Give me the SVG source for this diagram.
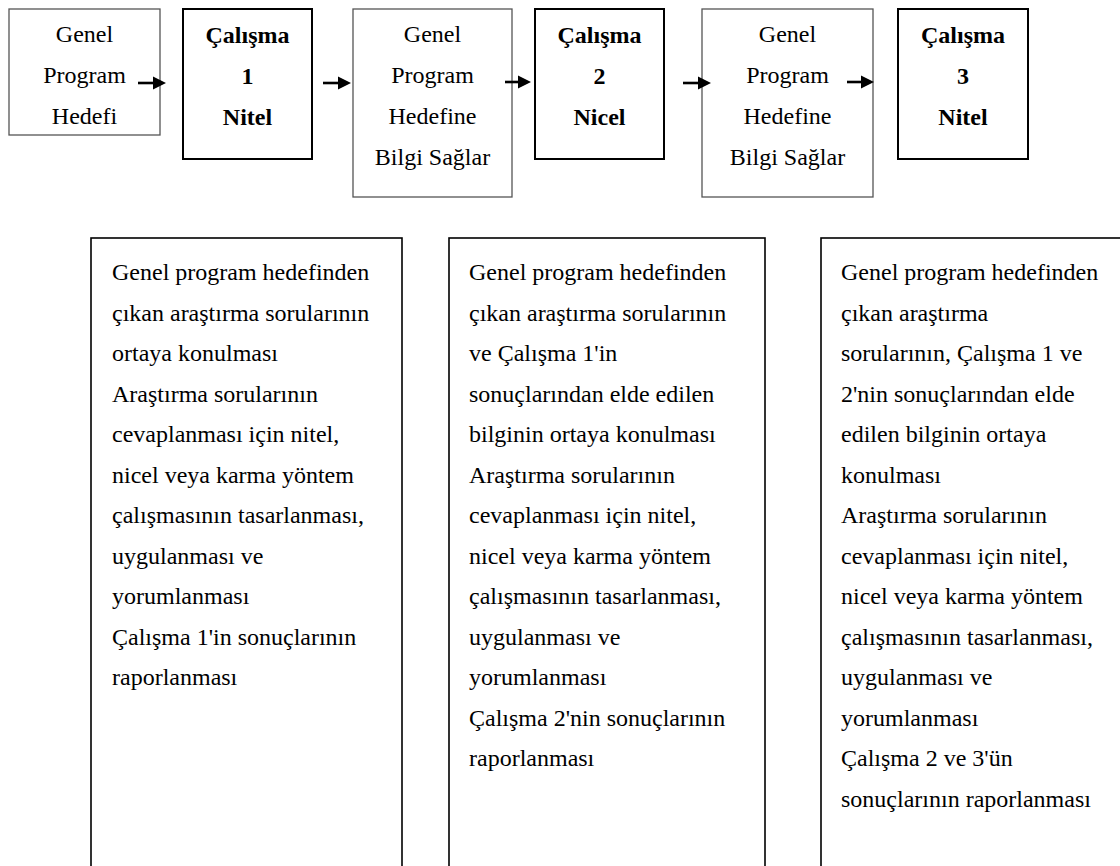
<svg xmlns="http://www.w3.org/2000/svg" width="1120" height="866" viewBox="0 0 1120 866" font-family="'Liberation Serif', Tinos, 'Times New Roman', Times, 'DejaVu Serif', 'Noto Serif', serif">
<defs>
<style>
.t{font-family:'Liberation Serif', Tinos, 'Times New Roman', Times, 'DejaVu Serif', 'Noto Serif', serif;font-size:24px;fill:#000}
.c{text-anchor:middle}
.b{font-weight:bold}
.thin{fill:#fff;stroke:#555;stroke-width:1.3}
.bold{fill:#fff;stroke:#000;stroke-width:2}
.big{fill:#fff;stroke:#000;stroke-width:1.6}
.arr{stroke:#000;stroke-width:2.6;fill:none}
.head{fill:#000}
</style>
</defs>
<rect width="1120" height="866" fill="#fff"/>
<g id="n1"><rect class="thin" x="9" y="9" width="151" height="126"/>
<text class="t c" x="84.5" y="42">Genel</text><text class="t c" x="84.5" y="83">Program</text><text class="t c" x="84.5" y="124">Hedefi</text></g>
<g id="n2"><rect class="bold" x="183" y="9" width="129" height="150"/>
<text class="t c b" x="247.5" y="43">Çalışma</text><text class="t c b" x="247.5" y="84">1</text><text class="t c b" x="247.5" y="125">Nitel</text></g>
<g id="n3"><rect class="thin" x="353" y="9" width="159" height="188"/>
<text class="t c" x="432.5" y="42">Genel</text><text class="t c" x="432.5" y="83">Program</text><text class="t c" x="432.5" y="124">Hedefine</text><text class="t c" x="432.5" y="165">Bilgi Sağlar</text></g>
<g id="n4"><rect class="bold" x="535" y="9" width="129" height="150"/>
<text class="t c b" x="599.5" y="43">Çalışma</text><text class="t c b" x="599.5" y="84">2</text><text class="t c b" x="599.5" y="125">Nicel</text></g>
<g id="n5"><rect class="thin" x="702" y="9" width="171" height="188"/>
<text class="t c" x="787.5" y="42">Genel</text><text class="t c" x="787.5" y="83">Program</text><text class="t c" x="787.5" y="124">Hedefine</text><text class="t c" x="787.5" y="165">Bilgi Sağlar</text></g>
<g id="n6"><rect class="bold" x="898" y="9" width="130" height="150"/>
<text class="t c b" x="963" y="43">Çalışma</text><text class="t c b" x="963" y="84">3</text><text class="t c b" x="963" y="125">Nitel</text></g>
<g id="connectors">
<line class="arr" x1="138" y1="83" x2="155" y2="83"/><polygon class="head" points="166,83 153,76.5 153,89.5"/>
<line class="arr" x1="323" y1="83" x2="340" y2="83"/><polygon class="head" points="351,83 338,76.5 338,89.5"/>
<line class="arr" x1="505" y1="82" x2="520" y2="82"/><polygon class="head" points="531,82 518,75.5 518,88.5"/>
<line class="arr" x1="683" y1="83" x2="700" y2="83"/><polygon class="head" points="711,83 698,76.5 698,89.5"/>
<line class="arr" x1="847" y1="82" x2="863" y2="82"/><polygon class="head" points="874,82 861,75.5 861,88.5"/>
</g>
<g id="d1"><rect class="big" x="91" y="238" width="311" height="640"/>
<text class="t" x="112" y="280">Genel program hedefinden</text>
<text class="t" x="112" y="320.5">çıkan araştırma sorularının</text>
<text class="t" x="112" y="361">ortaya konulması</text>
<text class="t" x="112" y="401.5">Araştırma sorularının</text>
<text class="t" x="112" y="442">cevaplanması için nitel,</text>
<text class="t" x="112" y="482.5">nicel veya karma yöntem</text>
<text class="t" x="112" y="523">çalışmasının tasarlanması,</text>
<text class="t" x="112" y="563.5">uygulanması ve</text>
<text class="t" x="112" y="604">yorumlanması</text>
<text class="t" x="112" y="644.5">Çalışma 1'in sonuçlarının</text>
<text class="t" x="112" y="685">raporlanması</text>
</g>
<g id="d2"><rect class="big" x="449" y="238" width="316" height="640"/>
<text class="t" x="469" y="280">Genel program hedefinden</text>
<text class="t" x="469" y="320.5">çıkan araştırma sorularının</text>
<text class="t" x="469" y="361">ve Çalışma 1'in</text>
<text class="t" x="469" y="401.5">sonuçlarından elde edilen</text>
<text class="t" x="469" y="442">bilginin ortaya konulması</text>
<text class="t" x="469" y="482.5">Araştırma sorularının</text>
<text class="t" x="469" y="523">cevaplanması için nitel,</text>
<text class="t" x="469" y="563.5">nicel veya karma yöntem</text>
<text class="t" x="469" y="604">çalışmasının tasarlanması,</text>
<text class="t" x="469" y="644.5">uygulanması ve</text>
<text class="t" x="469" y="685">yorumlanması</text>
<text class="t" x="469" y="725.5">Çalışma 2'nin sonuçlarının</text>
<text class="t" x="469" y="766">raporlanması</text>
</g>
<g id="d3"><rect class="big" x="821" y="238" width="310" height="640"/>
<text class="t" x="841" y="280">Genel program hedefinden</text>
<text class="t" x="841" y="320.5">çıkan araştırma</text>
<text class="t" x="841" y="361">sorularının, Çalışma 1 ve</text>
<text class="t" x="841" y="401.5">2'nin sonuçlarından elde</text>
<text class="t" x="841" y="442">edilen bilginin ortaya</text>
<text class="t" x="841" y="482.5">konulması</text>
<text class="t" x="841" y="523">Araştırma sorularının</text>
<text class="t" x="841" y="563.5">cevaplanması için nitel,</text>
<text class="t" x="841" y="604">nicel veya karma yöntem</text>
<text class="t" x="841" y="644.5">çalışmasının tasarlanması,</text>
<text class="t" x="841" y="685">uygulanması ve</text>
<text class="t" x="841" y="725.5">yorumlanması</text>
<text class="t" x="841" y="766">Çalışma 2 ve 3'ün</text>
<text class="t" x="841" y="806.5">sonuçlarının raporlanması</text>
</g>
</svg>
